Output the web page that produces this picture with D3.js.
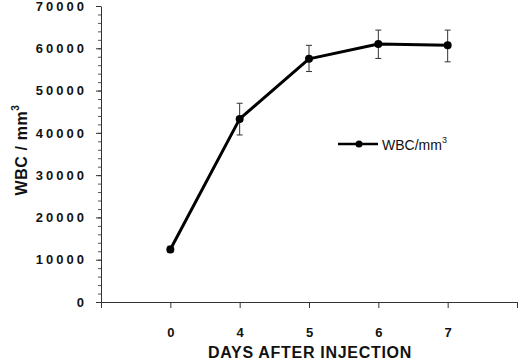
<!DOCTYPE html>
<html>
<head>
<meta charset="utf-8">
<script src="https://cdn.jsdelivr.net/npm/d3@7"></script>
<style>
  body { margin: 0; background: #fff; }
  svg { font-family: "Liberation Sans", Arial, sans-serif; }
</style>
</head>
<body>
<div id="chart"></div>
<script>
// data
const days = ['0', '4', '5', '6', '7'];
const wbc = [12400, 43300, 57500, 61000, 60700];
const errHi = [13200, 47000, 60700, 64300, 64300];
const errLo = [11700, 39500, 54500, 57600, 56800];
const yTicks = [0, 10000, 20000, 30000, 40000, 50000, 60000, 70000];

const data = days.map((d, i) => ({ day: d, v: wbc[i], hi: errHi[i], lo: errLo[i] }));

const W = 520, H = 361;
const margin = { left: 101, right: 517, top: 6, bottom: 302 };

const svg = d3.select('#chart').append('svg')
    .attr('width', W).attr('height', H);

// x: point scale with blank slots at both ends
const x = d3.scalePoint()
    .domain(['a'].concat(days, ['b']))
    .range([margin.left, margin.right]);

const y = d3.scaleLinear().domain([0, 70000]).range([margin.bottom, margin.top]);

// minor y ticks
svg.append('g')
    .attr('transform', 'translate(' + margin.left + ',0)')
    .call(d3.axisLeft(y).tickValues(d3.range(0, 70001, 2000)).tickSize(3).tickFormat(''))
    .call(g => g.select('.domain').remove())
    .selectAll('line').attr('stroke', '#555');

// major y ticks + labels
const yAxis = svg.append('g')
    .attr('transform', 'translate(' + margin.left + ',0)')
    .call(d3.axisLeft(y).tickValues(yTicks).tickSize(5).tickPadding(9).tickSizeOuter(0)
        .tickFormat(d3.format('d')));
yAxis.select('.domain').attr('stroke', '#333');
yAxis.selectAll('line').attr('stroke', '#333');
yAxis.selectAll('text')
    .attr('font-size', 13)
    .attr('font-weight', 'bold')
    .attr('letter-spacing', 3)
    .attr('fill', '#111')
    .attr('font-family', '"Liberation Sans", Arial, sans-serif');

// x axis
const xAxis = svg.append('g')
    .attr('transform', 'translate(0,' + margin.bottom + ')')
    .call(d3.axisBottom(x).tickSize(6).tickPadding(20).tickSizeOuter(0)
        .tickFormat(d => (d === 'a' || d === 'b') ? '' : d));
xAxis.select('.domain').attr('stroke', '#333');
xAxis.selectAll('line').attr('stroke', '#333');
xAxis.selectAll('text')
    .attr('font-size', 13)
    .attr('font-weight', 'bold')
    .attr('fill', '#111')
    .attr('font-family', '"Liberation Sans", Arial, sans-serif');

// axis titles
svg.append('text')
    .attr('x', 310).attr('y', 358)
    .attr('text-anchor', 'middle')
    .attr('font-size', 16)
    .attr('font-weight', 'bold')
    .attr('letter-spacing', 0.7)
    .attr('fill', '#111')
    .text('DAYS AFTER INJECTION');

const yt = svg.append('text')
    .attr('transform', 'translate(27,150) rotate(-90)')
    .attr('text-anchor', 'middle')
    .attr('font-size', 16)
    .attr('font-weight', 'bold')
    .attr('letter-spacing', 0.6)
    .attr('fill', '#111');
yt.append('tspan').text('WBC  /  mm');
yt.append('tspan').attr('font-size', 10).attr('dy', -8).text('3');

// error bars
const eb = svg.append('g').attr('stroke', '#333').attr('stroke-width', 1);
data.forEach(d => {
    const cx = x(d.day);
    eb.append('line').attr('x1', cx).attr('x2', cx).attr('y1', y(d.hi)).attr('y2', y(d.lo));
    eb.append('line').attr('x1', cx - 3).attr('x2', cx + 3).attr('y1', y(d.hi)).attr('y2', y(d.hi));
    eb.append('line').attr('x1', cx - 3).attr('x2', cx + 3).attr('y1', y(d.lo)).attr('y2', y(d.lo));
});

// line
const lineGen = d3.line().x(d => x(d.day)).y(d => y(d.v));
svg.append('path')
    .attr('d', lineGen(data))
    .attr('fill', 'none')
    .attr('stroke', '#000')
    .attr('stroke-width', 3)
    .attr('stroke-linejoin', 'round');

svg.selectAll('.dot')
    .data(data)
    .join('circle')
    .attr('class', 'dot')
    .attr('cx', d => x(d.day))
    .attr('cy', d => y(d.v))
    .attr('r', 4)
    .attr('fill', '#000');

// legend
const lg = svg.append('g').attr('transform', 'translate(338,144)');
lg.append('line').attr('x1', 0).attr('x2', 40).attr('y1', 0).attr('y2', 0)
    .attr('stroke', '#000').attr('stroke-width', 2.5);
lg.append('circle').attr('cx', 21).attr('cy', 0).attr('r', 3.5).attr('fill', '#000');
const lt = lg.append('text').attr('x', 44).attr('y', 6)
    .attr('font-size', 14).attr('fill', '#111');
lt.append('tspan').text('WBC/mm');
lt.append('tspan').attr('font-size', 9).attr('dy', -7).text('3');
</script>
</body>
</html>
